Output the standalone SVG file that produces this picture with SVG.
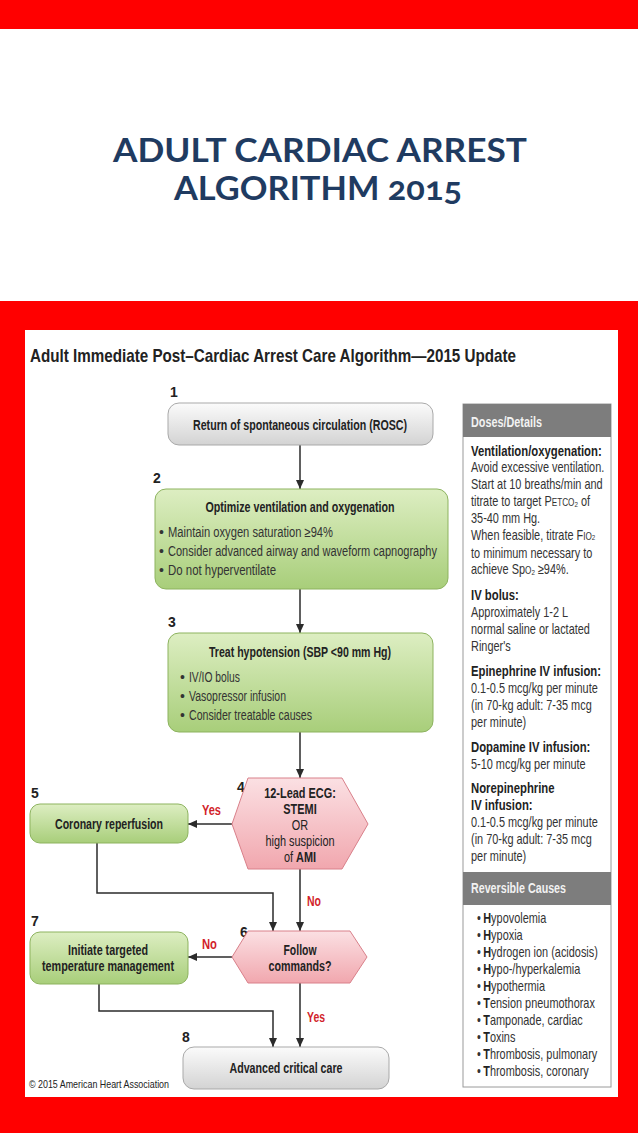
<svg xmlns="http://www.w3.org/2000/svg" width="638" height="1135" viewBox="0 0 638 1135">
<style>
text{font-family:"Liberation Sans",Arial,sans-serif;fill:#222}
.title{font-family:Lato,"Open Sans",sans-serif;font-weight:700;font-size:33px;fill:#1f3b61;text-anchor:middle}
.num{font-weight:700;font-size:14px}
.bt{font-weight:700;font-size:14px;text-anchor:middle}
.bl{font-size:14px;fill:#333}
.yn{font-weight:700;font-size:14px;fill:#d21f2b}
.sd{font-size:14px;fill:#333}
.sb{font-size:14.5px;font-weight:700;fill:#222}
.hd{font-size:14px;font-weight:700;fill:#f2f2f2}
.conn{fill:none;stroke:#2b2b2b;stroke-width:1.5}
.gray{fill:url(#gGray);stroke:#a9a9a9;stroke-width:1}
.green{fill:url(#gGreen);stroke:#8db35f;stroke-width:1}
.pink{fill:url(#gPink);stroke:#d9808a;stroke-width:1}
</style>
<defs>
<linearGradient id="gGray" x1="0" y1="0" x2="0" y2="1"><stop offset="0" stop-color="#fbfbfb"/><stop offset="1" stop-color="#d3d3d3"/></linearGradient>
<linearGradient id="gGreen" x1="0" y1="0" x2="0" y2="1"><stop offset="0" stop-color="#ddeec2"/><stop offset="1" stop-color="#a8ce7a"/></linearGradient>
<linearGradient id="gPink" x1="0" y1="0" x2="0" y2="1"><stop offset="0" stop-color="#fbe0e3"/><stop offset="1" stop-color="#f1a7ae"/></linearGradient>
<marker id="arr" markerUnits="userSpaceOnUse" markerWidth="9" markerHeight="8" refX="9" refY="4" orient="auto"><path d="M0,0 L9,4 L0,8 z" fill="#2b2b2b"/></marker>
</defs>

<!-- background -->
<rect x="0" y="0" width="638" height="1135" fill="#ff0000"/>
<rect x="0" y="29" width="638" height="272" fill="#ffffff"/>
<rect x="0" y="1133" width="638" height="2" fill="#ffffff"/>
<rect x="25" y="330" width="593" height="767" fill="#ffffff"/>

<g id="slide-title">
<text class="title" x="320" y="162" textLength="414" lengthAdjust="spacingAndGlyphs">ADULT CARDIAC ARREST</text>
<text class="title" x="318" y="200" textLength="288" lengthAdjust="spacingAndGlyphs" style="font-variant-numeric:oldstyle-nums">ALGORITHM 2015</text>
</g>

<g id="panel-title">
<text x="30" y="362" font-size="19" font-weight="700" textLength="486" lengthAdjust="spacingAndGlyphs">Adult Immediate Post–Cardiac Arrest Care Algorithm—2015 Update</text>
</g>

<g id="connectors">
<line class="conn" x1="300" y1="445" x2="300" y2="489" marker-end="url(#arr)"/>
<line class="conn" x1="300" y1="589" x2="300" y2="633" marker-end="url(#arr)"/>
<line class="conn" x1="300" y1="732" x2="300" y2="778" marker-end="url(#arr)"/>
<line class="conn" x1="232" y1="824" x2="188" y2="824" marker-end="url(#arr)"/>
<polyline class="conn" points="97,843 97,893 273,893 273,931" marker-end="url(#arr)"/>
<line class="conn" x1="300" y1="869" x2="300" y2="931" marker-end="url(#arr)"/>
<line class="conn" x1="232" y1="957" x2="188" y2="957" marker-end="url(#arr)"/>
<polyline class="conn" points="99,984 99,1011 273,1011 273,1047" marker-end="url(#arr)"/>
<line class="conn" x1="300" y1="983" x2="300" y2="1047" marker-end="url(#arr)"/>
<text class="yn" x="202" y="815" textLength="19" lengthAdjust="spacingAndGlyphs">Yes</text>
<text class="yn" x="307" y="906" textLength="14" lengthAdjust="spacingAndGlyphs">No</text>
<text class="yn" x="202" y="949" textLength="15" lengthAdjust="spacingAndGlyphs">No</text>
<text class="yn" x="307" y="1022" textLength="18" lengthAdjust="spacingAndGlyphs">Yes</text>
</g>

<g id="node1">
<text class="num" x="170" y="397">1</text>
<rect class="gray" x="168" y="403" width="265" height="42" rx="11"/>
<text class="bt" x="300" y="430" textLength="214" lengthAdjust="spacingAndGlyphs">Return of spontaneous circulation (ROSC)</text>
</g>

<g id="node2">
<text class="num" x="153" y="483">2</text>
<rect class="green" x="155" y="489" width="293" height="100" rx="11"/>
<text class="bt" x="300" y="512" textLength="189" lengthAdjust="spacingAndGlyphs">Optimize ventilation and oxygenation</text>
<text class="bl" x="159" y="537">•</text>
<text class="bl" x="168" y="537" textLength="165" lengthAdjust="spacingAndGlyphs">Maintain oxygen saturation ≥94%</text>
<text class="bl" x="159" y="556">•</text>
<text class="bl" x="168" y="556" textLength="269" lengthAdjust="spacingAndGlyphs">Consider advanced airway and waveform capnography</text>
<text class="bl" x="159" y="575">•</text>
<text class="bl" x="168" y="575" textLength="108" lengthAdjust="spacingAndGlyphs">Do not hyperventilate</text>
</g>

<g id="node3">
<text class="num" x="168" y="627">3</text>
<rect class="green" x="168" y="633" width="265" height="99" rx="11"/>
<text class="bt" x="300" y="657" textLength="182" lengthAdjust="spacingAndGlyphs">Treat hypotension (SBP &lt;90 mm Hg)</text>
<text class="bl" x="180" y="682">•</text>
<text class="bl" x="189" y="682" textLength="51" lengthAdjust="spacingAndGlyphs">IV/IO bolus</text>
<text class="bl" x="180" y="701">•</text>
<text class="bl" x="189" y="701" textLength="97" lengthAdjust="spacingAndGlyphs">Vasopressor infusion</text>
<text class="bl" x="180" y="720">•</text>
<text class="bl" x="189" y="720" textLength="123" lengthAdjust="spacingAndGlyphs">Consider treatable causes</text>
</g>

<g id="node4">
<text class="num" x="237" y="792">4</text>
<polygon class="pink" points="232,824 248,778 342,778 368,824 342,869 248,869"/>
<g transform="translate(300 0) scale(0.78 1)">
<text x="0" y="798" font-size="14" font-weight="700" text-anchor="middle">12-Lead ECG:</text>
<text x="0" y="814" font-size="14" font-weight="700" text-anchor="middle">STEMI</text>
<text x="0" y="830" font-size="14" text-anchor="middle" fill="#333">OR</text>
<text x="0" y="846" font-size="14" text-anchor="middle" fill="#333">high suspicion</text>
<text x="0" y="862" font-size="14" text-anchor="middle" fill="#333">of <tspan font-weight="700" fill="#222">AMI</tspan></text>
</g>
</g>

<g id="node5">
<text class="num" x="31" y="798">5</text>
<rect class="green" x="30" y="804" width="158" height="39" rx="10"/>
<text class="bt" x="109" y="829" textLength="108" lengthAdjust="spacingAndGlyphs">Coronary reperfusion</text>
</g>

<g id="node6">
<text class="num" x="240" y="937">6</text>
<polygon class="pink" points="232,957 248,931 350,931 367,957 350,983 248,983"/>
<text class="bt" x="300" y="955" textLength="33" lengthAdjust="spacingAndGlyphs">Follow</text>
<text class="bt" x="300" y="971" textLength="63" lengthAdjust="spacingAndGlyphs">commands?</text>
</g>

<g id="node7">
<text class="num" x="31" y="926">7</text>
<rect class="green" x="30" y="932" width="158" height="52" rx="10"/>
<text class="bt" x="108" y="955" textLength="80" lengthAdjust="spacingAndGlyphs">Initiate targeted</text>
<text class="bt" x="108" y="971" textLength="132" lengthAdjust="spacingAndGlyphs">temperature management</text>
</g>

<g id="node8">
<text class="num" x="182" y="1042">8</text>
<rect class="gray" x="183" y="1047" width="206" height="42" rx="11"/>
<text class="bt" x="286" y="1073" textLength="113" lengthAdjust="spacingAndGlyphs">Advanced critical care</text>
</g>

<g id="copyright">
<text x="29" y="1088" font-size="11.5" fill="#333" textLength="140" lengthAdjust="spacingAndGlyphs">© 2015 American Heart Association</text>
</g>

<g id="sidebar">
<rect x="463" y="404" width="148" height="683" fill="#ffffff" stroke="#9a9a9a" stroke-width="1"/>
<rect x="463" y="404" width="148" height="33" fill="#7d7d7d"/>
<rect x="463" y="872" width="148" height="33" fill="#7d7d7d"/>
<text class="hd" x="471" y="427" textLength="71" lengthAdjust="spacingAndGlyphs">Doses/Details</text>
<text class="hd" x="471" y="893" textLength="95" lengthAdjust="spacingAndGlyphs">Reversible Causes</text>
<g transform="translate(471 0) scale(0.78 1)">
<text class="sb" x="0" y="456">Ventilation/oxygenation:</text>
<text class="sd" x="0" y="472">Avoid excessive ventilation.</text>
<text class="sd" x="0" y="489">Start at 10 breaths/min and</text>
<text class="sd" x="0" y="506">titrate to target P<tspan font-size="10.5">ETCO</tspan><tspan font-size="8" dy="1">2</tspan><tspan dy="-1"> of</tspan></text>
<text class="sd" x="0" y="523">35-40 mm Hg.</text>
<text class="sd" x="0" y="540">When feasible, titrate F<tspan font-size="10.5">IO</tspan><tspan font-size="8">2</tspan></text>
<text class="sd" x="0" y="558">to minimum necessary to</text>
<text class="sd" x="0" y="574">achieve Sp<tspan font-size="10.5">O</tspan><tspan font-size="8" dy="1">2</tspan><tspan dy="-1"> ≥94%.</tspan></text>
<text class="sb" x="0" y="600">IV bolus:</text>
<text class="sd" x="0" y="617">Approximately 1-2 L</text>
<text class="sd" x="0" y="634">normal saline or lactated</text>
<text class="sd" x="0" y="651">Ringer's</text>
<text class="sb" x="0" y="676">Epinephrine IV infusion:</text>
<text class="sd" x="0" y="693">0.1-0.5 mcg/kg per minute</text>
<text class="sd" x="0" y="710">(in 70-kg adult: 7-35 mcg</text>
<text class="sd" x="0" y="727">per minute)</text>
<text class="sb" x="0" y="752">Dopamine IV infusion:</text>
<text class="sd" x="0" y="769">5-10 mcg/kg per minute</text>
<text class="sb" x="0" y="793">Norepinephrine</text>
<text class="sb" x="0" y="810">IV infusion:</text>
<text class="sd" x="0" y="827">0.1-0.5 mcg/kg per minute</text>
<text class="sd" x="0" y="844">(in 70-kg adult: 7-35 mcg</text>
<text class="sd" x="0" y="861">per minute)</text>
</g>
<g transform="translate(477 0) scale(0.78 1)">
<text class="sd" x="0" y="923" font-size="13.5">• <tspan x="8" font-weight="700" fill="#222">H</tspan>ypovolemia</text>
<text class="sd" x="0" y="940" font-size="13.5">• <tspan x="8" font-weight="700" fill="#222">H</tspan>ypoxia</text>
<text class="sd" x="0" y="957" font-size="13.5">• <tspan x="8" font-weight="700" fill="#222">H</tspan>ydrogen ion (acidosis)</text>
<text class="sd" x="0" y="974" font-size="13.5">• <tspan x="8" font-weight="700" fill="#222">H</tspan>ypo-/hyperkalemia</text>
<text class="sd" x="0" y="991" font-size="13.5">• <tspan x="8" font-weight="700" fill="#222">H</tspan>ypothermia</text>
<text class="sd" x="0" y="1008" font-size="13.5">• <tspan x="8" font-weight="700" fill="#222">T</tspan>ension pneumothorax</text>
<text class="sd" x="0" y="1025" font-size="13.5">• <tspan x="8" font-weight="700" fill="#222">T</tspan>amponade, cardiac</text>
<text class="sd" x="0" y="1042" font-size="13.5">• <tspan x="8" font-weight="700" fill="#222">T</tspan>oxins</text>
<text class="sd" x="0" y="1059" font-size="13.5">• <tspan x="8" font-weight="700" fill="#222">T</tspan>hrombosis, pulmonary</text>
<text class="sd" x="0" y="1076" font-size="13.5">• <tspan x="8" font-weight="700" fill="#222">T</tspan>hrombosis, coronary</text>
</g>
</g>
</svg>
